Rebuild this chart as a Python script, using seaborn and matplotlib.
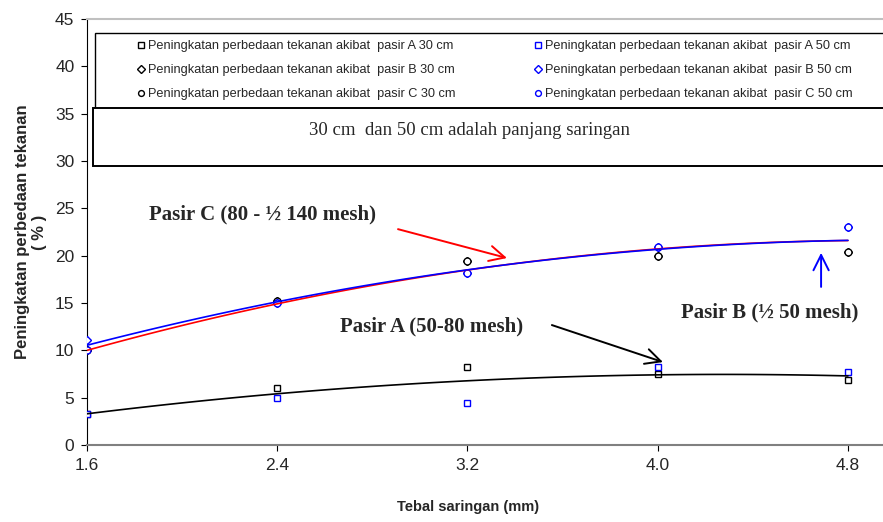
import numpy as np
import matplotlib
matplotlib.use("Agg")
import matplotlib.pyplot as plt
from matplotlib.patches import Rectangle
from matplotlib.lines import Line2D
import seaborn as sns

# filter thickness (mm)
tebal = [1.6, 2.4, 3.2, 4.0, 4.8]
tick_labels = ["1.6", "2.4", "3.2", "4.0", "4.8"]

# pressure-difference increase (%)
pasir_a_30 = [3.3, 6.0, 8.2, 7.5, 6.9]
pasir_a_50 = [3.3, 5.0, 4.4, 8.2, 7.7]
pasir_b_30 = [10.0, 15.2, 19.4, 20.0, 20.4]
pasir_b_50 = [11.1, 15.0, 18.2, 20.9, 23.0]
pasir_c_30 = [10.0, 15.2, 19.4, 20.0, 20.4]
pasir_c_50 = [10.0, 15.0, 18.2, 20.9, 23.0]

# trend curves read at each thickness
trend_a = [3.3, 5.4, 6.8, 7.4, 7.3]
trend_b = [10.55, 15.1, 18.5, 20.7, 21.6]
trend_c = [10.0, 14.9, 18.5, 20.7, 21.6]

label = "Peningkatan perbedaan tekanan akibat  pasir {} {} cm"

sns.set_style("white")
plt.rcParams["font.family"] = ["Liberation Sans", "DejaVu Sans"]

fig = plt.figure(figsize=(8.83, 5.22), dpi=100)
ax = fig.add_axes([0.0985, 0.1475, 0.9015, 0.8161])

series = [
    (pasir_a_30, "s", "black", label.format("A", 30)),
    (pasir_b_30, "D", "black", label.format("B", 30)),
    (pasir_c_30, "o", "black", label.format("C", 30)),
    (pasir_a_50, "s", "blue", label.format("A", 50)),
    (pasir_b_50, "D", "blue", label.format("B", 50)),
    (pasir_c_50, "o", "blue", label.format("C", 50)),
]
handles = []
for vals, mk, col, lab in series:
    ms = 4.4 if mk == "D" else 5
    sns.lineplot(x=tebal, y=vals, marker=mk, linestyle="", markersize=ms,
                 markerfacecolor="white", markeredgecolor=col,
                 markeredgewidth=1.0, ax=ax, zorder=3)
    handles.append(Line2D([], [], marker=mk, linestyle="", markersize=ms - 0.8,
                          markerfacecolor="white", markeredgecolor=col,
                          markeredgewidth=1.0, label=lab))

# trend lines (2nd order, like the spreadsheet trendline)
xs = np.linspace(tebal[0], tebal[-1], 100)
for vals, col in [(trend_a, "black"), (trend_c, "red"), (trend_b, "blue")]:
    fit = np.polyval(np.polyfit(tebal, vals, 2), xs)
    sns.lineplot(x=xs, y=fit, color=col, linewidth=1.2, ax=ax, zorder=4)

ax.set_xlim(1.6, 1.6 + 796 / 237.8)
ax.set_ylim(0, 45)
ax.set_xticks(tebal)
ax.set_xticklabels(tick_labels)
ax.set_yticks(range(0, 50, 5))
ax.tick_params(axis="both", labelsize=12.5, length=4, width=0.8, direction="out",
               color="black", pad=5, left=True, bottom=True)

ax.spines["right"].set_visible(False)
ax.spines["left"].set_color("black")
ax.spines["bottom"].set_color("#808080")
ax.spines["top"].set_color("#c0c0c0")
ax.spines["top"].set_linewidth(1.5)
ax.spines["bottom"].set_linewidth(1.5)

ax.set_xlabel("Tebal saringan (mm)", fontsize=10.5, fontweight="bold")
ax.xaxis.set_label_coords(0.479, -0.13)
ax.set_ylabel("Peningkatan perbedaan tekanan\n( % )", fontsize=12, fontweight="bold")
ax.yaxis.set_label_coords(-0.05, 0.5)

# legend
leg = ax.legend(handles=handles, ncol=2, loc="upper left",
                bbox_to_anchor=(137 / 883, 1 - 40 / 522),
                bbox_transform=fig.transFigure, frameon=False, fontsize=9.15,
                handlelength=0.6, handletextpad=0.25, columnspacing=6.2,
                labelspacing=0.95, borderpad=0, borderaxespad=0)
leg.set_zorder(5)
ax.add_patch(Rectangle((1.634, 31), 4, 12.5, facecolor="white",
                       edgecolor="black", linewidth=1.0, zorder=4.5))

# note box
ax.add_patch(Rectangle((1.625, 29.46), 4, 6.14, facecolor="white",
                       edgecolor="black", linewidth=1.4, zorder=6))
ax.text(3.21, 33.2, "30 cm  dan 50 cm adalah panjang saringan", fontsize=13.5,
        family="Liberation Serif", ha="center", va="center", zorder=7)

# sand labels with arrows
ax.text(2.34, 24.3, "Pasir C (80 - \u00bd 140 mesh)", fontsize=15, fontweight="bold",
        family="Liberation Serif", ha="center", va="center")
ax.text(3.05, 12.57, "Pasir A (50-80 mesh)", fontsize=15, fontweight="bold",
        family="Liberation Serif", ha="center", va="center")
ax.text(4.472, 14.0, "Pasir B (\u00bd 50 mesh)", fontsize=15, fontweight="bold",
        family="Liberation Serif", ha="center", va="center")

arrow = "->,head_length=1.1,head_width=0.55"
for start, tip, col in [((2.908, 22.8), (3.366, 19.75), "red"),
                        ((3.555, 12.67), (4.022, 8.76), "black"),
                        ((4.687, 16.7), (4.687, 20.3), "blue")]:
    ax.annotate("", xy=tip, xytext=start,
                arrowprops=dict(arrowstyle=arrow, color=col, lw=1.4,
                                shrinkA=0, shrinkB=0, mutation_scale=10))

fig.savefig("out.png", dpi=100)
